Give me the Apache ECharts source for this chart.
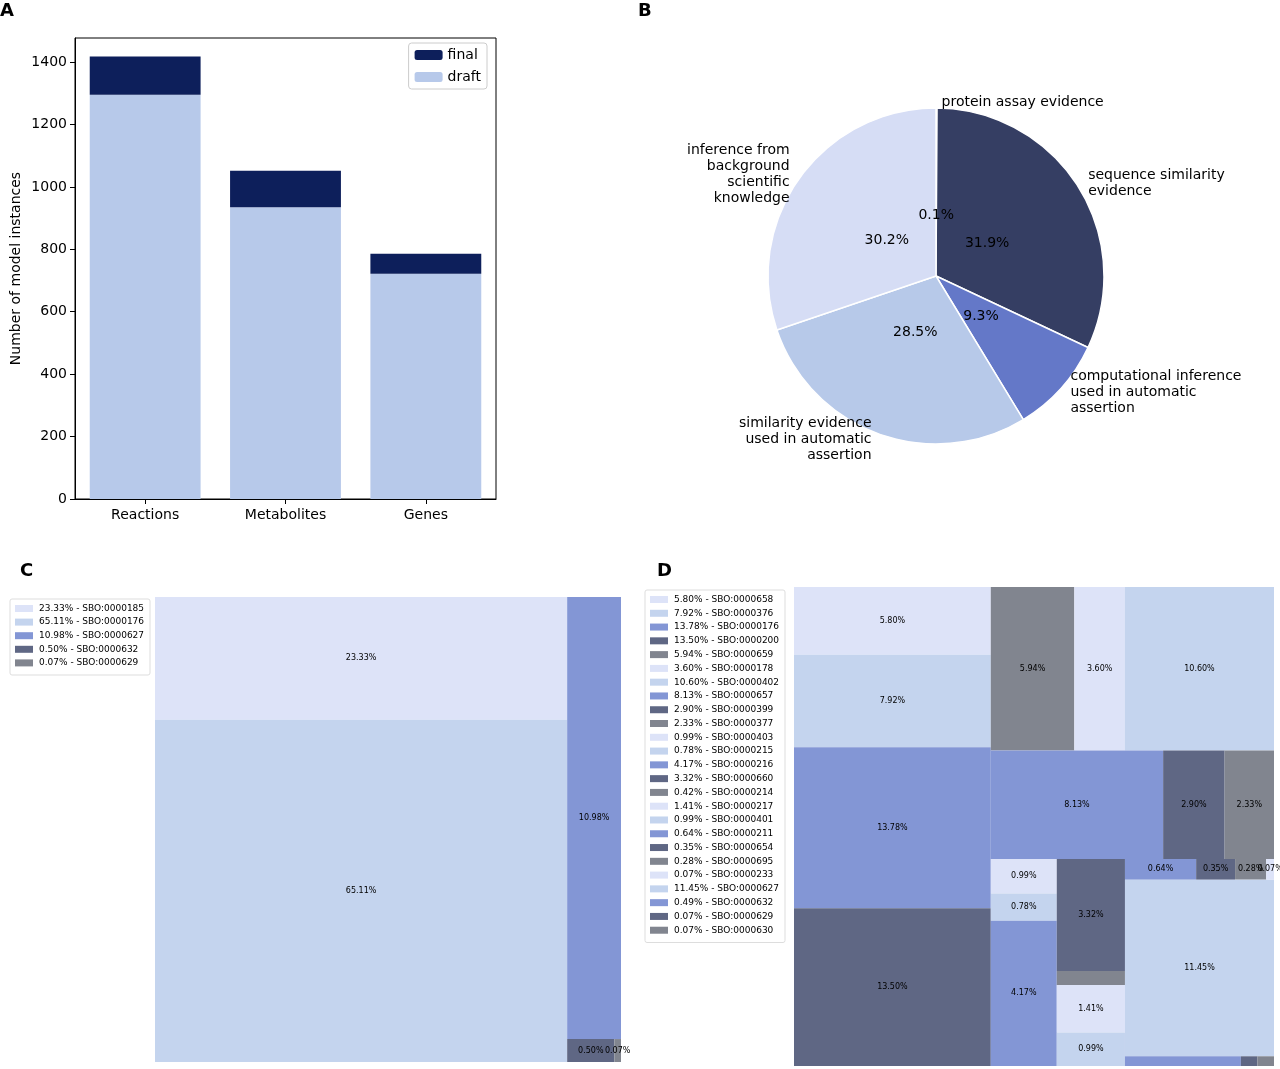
<!DOCTYPE html>
<html><head><meta charset="utf-8">
<script src="https://cdn.jsdelivr.net/npm/echarts@6/dist/echarts.min.js"></script>
<style>html,body{margin:0;background:#fff}#c{width:1280px;height:1069px}</style>
</head><body><div id="c"></div>
<script>
// panel A
const barCats = ['Reactions', 'Metabolites', 'Genes'];
const draftVals = [1295, 935, 722];
const finalVals = [123, 117, 64];
// panel B
const pieNames = ['protein assay evidence', 'sequence similarity\nevidence', 'computational inference\nused in automatic\nassertion', 'similarity evidence\nused in automatic\nassertion', 'inference from\nbackground\nscientific\nknowledge'];
const pieVals = [0.1, 31.9, 9.3, 28.5, 30.2];
const pieColors = ['#5a6078', '#353e63', '#6478c8', '#b7c9e9', '#d6ddf5'];
// panel C
const cCodes = ['SBO:0000185', 'SBO:0000176', 'SBO:0000627', 'SBO:0000632', 'SBO:0000629'];
const cVals = [23.33, 65.11, 10.98, 0.50, 0.07];
// panel D
const dCodes = ['SBO:0000658', 'SBO:0000376', 'SBO:0000176', 'SBO:0000200', 'SBO:0000659', 'SBO:0000178', 'SBO:0000402', 'SBO:0000657', 'SBO:0000399', 'SBO:0000377', 'SBO:0000403', 'SBO:0000215', 'SBO:0000216', 'SBO:0000660', 'SBO:0000214', 'SBO:0000217', 'SBO:0000401', 'SBO:0000211', 'SBO:0000654', 'SBO:0000695', 'SBO:0000233', 'SBO:0000627', 'SBO:0000632', 'SBO:0000629', 'SBO:0000630'];
const dVals = [5.80, 7.92, 13.78, 13.50, 5.94, 3.60, 10.60, 8.13, 2.90, 2.33, 0.99, 0.78, 4.17, 3.32, 0.42, 1.41, 0.99, 0.64, 0.35, 0.28, 0.07, 11.45, 0.49, 0.07, 0.07];
const tmColors = ['#dde3f8', '#c4d4ee', '#8396d5', '#5f6784', '#81858f'];

const FONT = 'DejaVu Sans';
let chart = echarts.init(document.getElementById('c'));

function tmData(vals) {
    return vals.map((v, i) => ({
        name: v.toFixed(2) + '%', value: v,
        itemStyle: { color: tmColors[i % 5] }
    }));
}
function legendBox(x, y, vals, codes, step) {
    const kids = [{
        type: 'rect', shape: { x: 0, y: 0, width: 140, height: vals.length * step + 8, r: 2 },
        style: { fill: '#fff', stroke: '#ddd', lineWidth: 1 }
    }];
    vals.forEach((v, i) => {
        kids.push({ type: 'rect', shape: { x: 5, y: 6 + i * step, width: 18, height: 7 }, style: { fill: tmColors[i % 5] } });
        kids.push({ type: 'text', x: 29, y: 5 + i * step, style: { text: v.toFixed(2) + '% - ' + codes[i], font: '9px ' + FONT, fill: '#000' } });
    });
    return { type: 'group', x: x, y: y, children: kids };
}
function tmSeries(vals, box) {
    return Object.assign({
        type: 'treemap', sort: false, roam: false, nodeClick: false,
        breadcrumb: { show: false },
        label: { show: true, position: 'inside', color: '#000', fontSize: 8, fontFamily: FONT, align: 'center', verticalAlign: 'middle',
                 overflow: 'none', formatter: p => p.name },
        itemStyle: { borderWidth: 0, gapWidth: 0 },
        levels: [{ itemStyle: { borderWidth: 0, gapWidth: 0 } }],
        data: tmData(vals)
    }, box);
}
const letter = (t, x, y) => ({ type: 'text', x: x, y: y, style: { text: t, font: 'bold 18px ' + FONT, fill: '#000' } });

let option = {
    animation: false,
    textStyle: { fontFamily: FONT },
    grid: { left: 75, top: 38, width: 421, height: 461, show: true, borderColor: '#000', borderWidth: 1 },
    legend: {
        data: ['final', 'draft'], orient: 'vertical', right: 793, top: 43,
        itemWidth: 28, itemHeight: 10, itemGap: 8, borderColor: '#ccc', borderWidth: 1, borderRadius: 3,
        padding: [5, 6], textStyle: { fontSize: 14, color: '#000' }
    },
    xAxis: {
        type: 'category', data: barCats,
        axisTick: { show: true, alignWithLabel: true, length: 5, lineStyle: { color: '#000' } },
        axisLine: { lineStyle: { color: '#000' } },
        axisLabel: { fontSize: 14, color: '#000', margin: 9 }
    },
    yAxis: {
        type: 'value', min: 0, max: 1477, interval: 200, name: 'Number of model instances',
        nameLocation: 'middle', nameGap: 52, nameTextStyle: { fontSize: 14, color: '#000' },
        axisLine: { show: true, lineStyle: { color: '#000' } },
        axisTick: { show: true, length: 5, lineStyle: { color: '#000' } },
        axisLabel: { fontSize: 14, color: '#000', showMaxLabel: false, formatter: v => String(v) },
        splitLine: { show: false }
    },
    graphic: [
        letter('A', 0, 2), letter('B', 638, 2), letter('C', 20, 562), letter('D', 657, 562),
        legendBox(10, 599, cVals, cCodes, 13.6),
        legendBox(645, 590, dVals, dCodes, 13.78)
    ],
    series: [
        { name: 'draft', type: 'bar', stack: 's', data: draftVals, barWidth: '79%', itemStyle: { color: '#b7c9ea' } },
        { name: 'final', type: 'bar', stack: 's', data: finalVals, itemStyle: { color: '#0d1f5b' } },
        {
            type: 'pie', center: [936, 276], radius: 168, startAngle: 90, clockwise: true,
            avoidLabelOverlap: false,
            itemStyle: { borderColor: '#fff', borderWidth: 1.5 },
            label: { show: true, position: 'outside', fontSize: 14, color: '#000', lineHeight: 16 },
            labelLine: { show: false, length: 6, length2: 0 },
            data: pieVals.map((v, i) => ({ name: pieNames[i], value: v, itemStyle: { color: pieColors[i] },
                label: { align: i >= 3 ? 'right' : 'left' } }))
        },
        {
            type: 'pie', center: [936, 276], radius: [0, 115], startAngle: 90, silent: true,
            avoidLabelOverlap: false,
            itemStyle: { color: 'transparent' },
            label: { show: true, position: 'inside', fontSize: 14, color: '#000', formatter: p => p.value + '%' },
            data: pieVals.map((v, i) => ({ name: pieNames[i], value: v }))
        },
        tmSeries(cVals, { left: 155, top: 597, width: 466, height: 465 }),
        tmSeries(dVals, { left: 794, top: 587, width: 480, height: 479 })
    ]
};
chart.setOption(option);
window.onresize = chart.resize;
</script>
</body></html>
